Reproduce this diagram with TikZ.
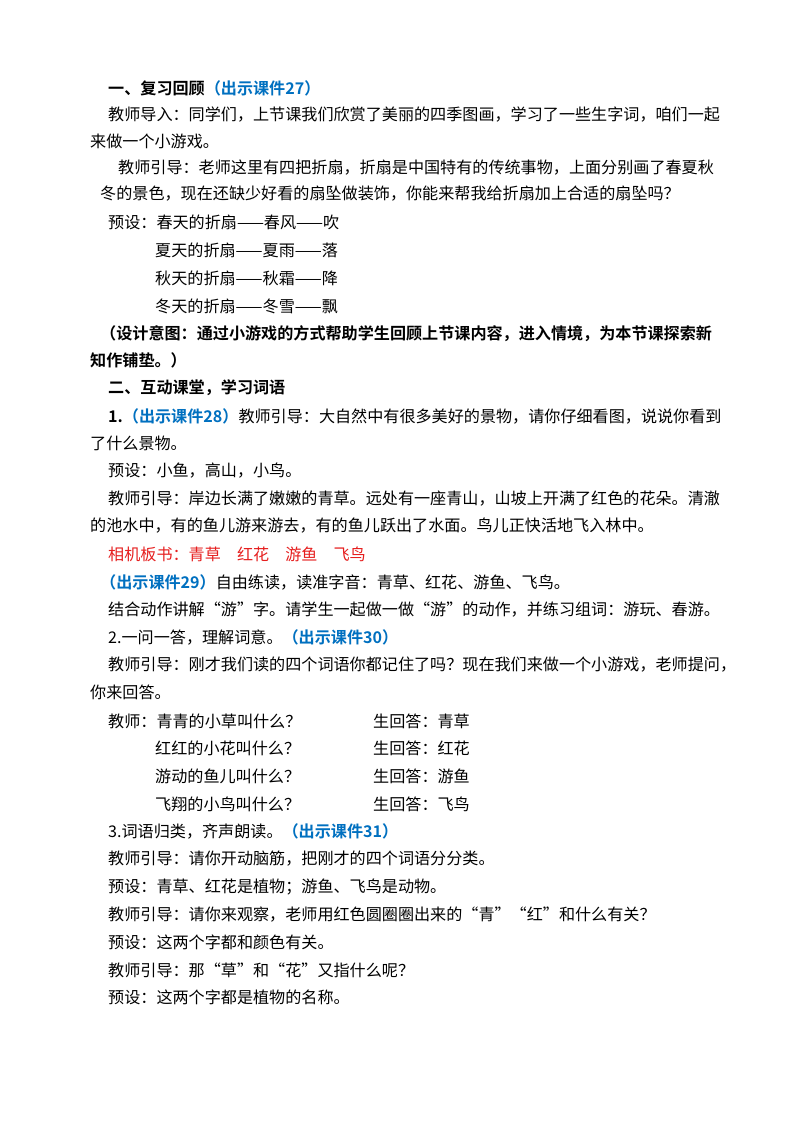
\documentclass[tikz,border=0pt]{standalone}
\usepackage{fontspec}
\newfontfamily\cjk{Noto Sans CJK SC}
\newfontfamily\cjkb{Noto Sans CJK SC Bold}
\definecolor{kblue}{RGB}{0,112,192}
\definecolor{kred}{RGB}{230,30,30}
\begin{document}
\begin{tikzpicture}[x=1pt,y=-1pt,
 t/.style={anchor=west,inner sep=0pt,font=\cjk\fontsize{16.1}{18}\selectfont}]
\useasboundingbox[fill=white] (0,0) rectangle (800,1132);
\node[t] (l1) at (108,88) {{\cjkb 一、复习回顾}{\cjkb\color{kblue}（出示课件27）}};
\node[t] (l2) at (108,115) {教师导入：同学们，上节课我们欣赏了美丽的四季图画，学习了一些生字词，咱们一起};
\node[t] (l3) at (90,141) {来做一个小游戏。};
\node[t] (l4) at (118,168) {教师引导：老师这里有四把折扇，折扇是中国特有的传统事物，上面分别画了春夏秋};
\node[t] (l5) at (100,194) {冬的景色，现在还缺少好看的扇坠做装饰，你能来帮我给折扇加上合适的扇坠吗？};
\node[t] (l6) at (108,222) {预设：春天的折扇——春风——吹};
\node[t] (l7) at (155,250) {夏天的折扇——夏雨——落};
\node[t] (l8) at (155,278) {秋天的折扇——秋霜——降};
\node[t] (l9) at (155,306) {冬天的折扇——冬雪——飘};
\node[t] (l10) at (100,334) {\cjkb（设计意图：通过小游戏的方式帮助学生回顾上节课内容，进入情境，为本节课探索新};
\node[t] (l11) at (90,360) {\cjkb 知作铺垫。）};
\node[t] (l12) at (108,388) {\cjkb 二、互动课堂，学习词语};
\node[t] (l13) at (108,416) {{\cjkb 1.}{\cjkb\color{kblue}（出示课件28）}教师引导：大自然中有很多美好的景物，请你仔细看图，说说你看到};
\node[t] (l14) at (90,443) {了什么景物。};
\node[t] (l15) at (108,471) {预设：小鱼，高山，小鸟。};
\node[t] (l16) at (108,499) {教师引导：岸边长满了嫩嫩的青草。远处有一座青山，山坡上开满了红色的花朵。清澈};
\node[t] (l17) at (90,526) {的池水中，有的鱼儿游来游去，有的鱼儿跃出了水面。鸟儿正快活地飞入林中。};
\node[t,text=kred] (l18) at (108,554) {相机板书：青草　红花　游鱼　飞鸟};
\node[t] (l19) at (100,582) {{\cjkb\color{kblue}（出示课件29）}自由练读，读准字音：青草、红花、游鱼、飞鸟。};
\node[t] (l20) at (108,610) {结合动作讲解“游”字。请学生一起做一做“游”的动作，并练习组词：游玩、春游。};
\node[t] (l21) at (108,637) {2.一问一答，理解词意。{\cjkb\color{kblue}（出示课件30）}};
\node[t] (l22) at (108,665) {教师引导：刚才我们读的四个词语你都记住了吗？现在我们来做一个小游戏，老师提问，};
\node[t] (l23) at (90,692) {你来回答。};
\node[t] (l24) at (108,721) {教师：青青的小草叫什么？};
\node[t] (r24) at (373,721) {生回答：青草};
\node[t] (l25) at (155,748) {红红的小花叫什么？};
\node[t] (r25) at (373,748) {生回答：红花};
\node[t] (l26) at (155,776) {游动的鱼儿叫什么？};
\node[t] (r26) at (373,776) {生回答：游鱼};
\node[t] (l27) at (155,804) {飞翔的小鸟叫什么？};
\node[t] (r27) at (373,804) {生回答：飞鸟};
\node[t] (l28) at (108,831) {3.词语归类，齐声朗读。{\cjkb\color{kblue}（出示课件31）}};
\node[t] (l29) at (108,859) {教师引导：请你开动脑筋，把刚才的四个词语分分类。};
\node[t] (l30) at (108,887) {预设：青草、红花是植物；游鱼、飞鸟是动物。};
\node[t] (l31) at (108,915) {教师引导：请你来观察，老师用红色圆圈圈出来的“青”“红”和什么有关？};
\node[t] (l32) at (108,942) {预设：这两个字都和颜色有关。};
\node[t] (l33) at (108,970) {教师引导：那“草”和“花”又指什么呢？};
\node[t] (l34) at (108,997) {预设：这两个字都是植物的名称。};
\end{tikzpicture}
\end{document}
